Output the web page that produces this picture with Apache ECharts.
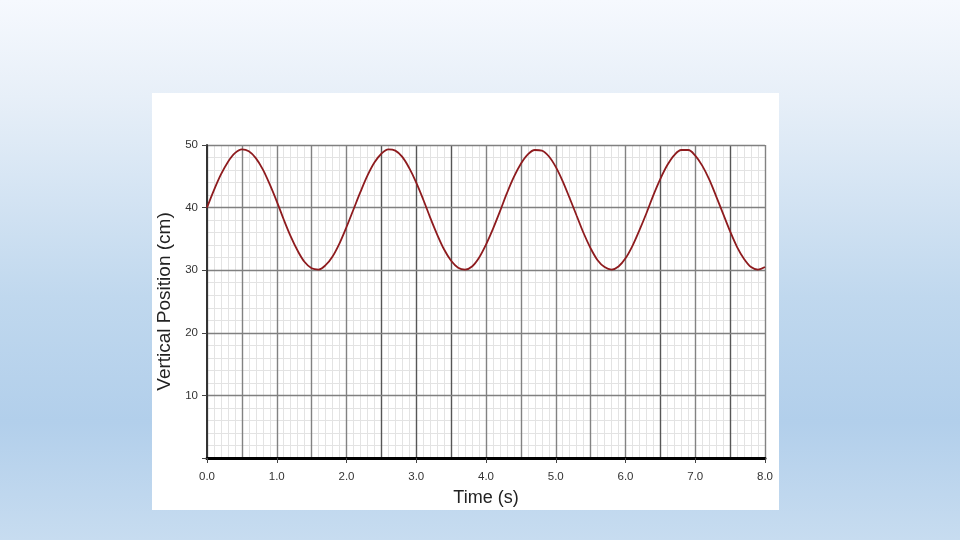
<!DOCTYPE html>
<html>
<head>
<meta charset="utf-8">
<style>html,body{margin:0;padding:0;width:960px;height:540px;overflow:hidden;}#c{width:960px;height:540px;}</style>
<script src="https://cdn.jsdelivr.net/npm/echarts@6/dist/echarts.min.js"></script>
</head>
<body>
<div id="c"></div>
<script>
// Time (s) samples and vertical position (cm)
const times = [0.0,0.1,0.2,0.3,0.4,0.5,0.6,0.7,0.8,0.9,1.0,1.1,1.2,1.3,1.4,1.5,1.6,1.7,1.8,1.9,2.0,2.1,2.2,2.3,2.4,2.5,2.6,2.7,2.8,2.9,3.0,3.1,3.2,3.3,3.4,3.5,3.6,3.7,3.8,3.9,4.0,4.1,4.2,4.3,4.4,4.5,4.6,4.7,4.8,4.9,5.0,5.1,5.2,5.3,5.4,5.5,5.6,5.7,5.8,5.9,6.0,6.1,6.2,6.3,6.4,6.5,6.6,6.7,6.8,6.9,7.0,7.1,7.2,7.3,7.4,7.5,7.6,7.7,7.8,7.9,8.0];
const positions = [40.0,42.8,45.3,47.3,48.7,49.3,49.0,47.9,46.1,43.7,41.0,38.1,35.4,33.1,31.3,30.3,30.1,30.8,32.2,34.3,36.9,39.7,42.5,45.1,47.2,48.6,49.3,49.1,48.1,46.3,44.0,41.3,38.4,35.7,33.3,31.5,30.4,30.1,30.6,32.0,34.1,36.6,39.4,42.3,44.9,47.0,48.5,49.2,49.1,48.2,46.5,44.2,41.5,38.7,35.9,33.5,31.6,30.5,30.1,30.6,31.9,33.9,36.4,39.1,42.0,44.6,46.8,48.4,49.2,49.2,48.3,46.7,44.5,41.8,39.0,36.2,33.7,31.8,30.5,30.1,30.5];
const xTitle = 'Time (s)';
const yTitle = 'Vertical Position (cm)';

const FONT = '"Liberation Sans", Arial, sans-serif';
const data = times.map((t, i) => [t, positions[i]]);

// major vertical grid line colours (0.0 .. 8.0 every 0.5)
const vCols = [];
for (let i = 0; i <= 16; i++) {
  vCols.push([5, 6, 7, 13, 15].indexOf(i) >= 0 ? '#565656' : '#828282');
}
const MINOR = '#e3e3e3';

const chart = echarts.init(document.getElementById('c'), null, {renderer: 'canvas'});
chart.setOption({
  backgroundColor: {
    type: 'linear', x: 0, y: 0, x2: 0, y2: 1,
    colorStops: [
      {offset: 0, color: '#f6f9fe'},
      {offset: 0.18, color: '#e7eff8'},
      {offset: 0.55, color: '#c0d8ee'},
      {offset: 0.78, color: '#b2cfeb'},
      {offset: 1, color: '#c7dcf0'}
    ]
  },
  animation: false,
  graphic: [{
    type: 'rect', z: -10, silent: true,
    shape: {x: 152, y: 93, width: 627, height: 417},
    style: {fill: '#ffffff'}
  }],
  grid: {left: 207, top: 145, width: 558, height: 313, containLabel: false},
  xAxis: [{
    // minor vertical grid (0.1 s)
    type: 'value', min: 0, max: 8, interval: 0.5, position: 'bottom', z: 0,
    axisLine: {show: false}, axisTick: {show: false}, axisLabel: {show: false},
    splitLine: {show: false},
    minorTick: {show: false, splitNumber: 5},
    minorSplitLine: {show: true, lineStyle: {color: MINOR, width: 1}}
  }, {
    // major vertical grid (0.5 s)
    type: 'value', min: 0, max: 8, interval: 0.5, position: 'bottom', z: 1,
    axisLine: {show: false}, axisTick: {show: false}, axisLabel: {show: false},
    splitLine: {show: true, lineStyle: {color: vCols, width: 1.4}}
  }, {
    type: 'value', min: 0, max: 8, interval: 1, position: 'bottom', offset: 0, z: 2,
    axisLine: {show: true, onZero: false, lineStyle: {color: '#000', width: 3}},
    axisTick: {show: true, length: 5, lineStyle: {color: '#444', width: 1}},
    axisLabel: {color: '#333', fontFamily: FONT, fontSize: 11.5, margin: 13,
      formatter: v => v.toFixed(1)},
    splitLine: {show: false},
    name: xTitle, nameLocation: 'middle', nameGap: 31,
    nameTextStyle: {color: '#222', fontFamily: FONT, fontSize: 18}
  }],
  yAxis: [{
    // minor horizontal grid (2 cm)
    type: 'value', min: 0, max: 50, interval: 10, position: 'left', z: 0,
    axisLine: {show: false}, axisTick: {show: false}, axisLabel: {show: false},
    splitLine: {show: false},
    minorTick: {show: false, splitNumber: 5},
    minorSplitLine: {show: true, lineStyle: {color: MINOR, width: 1}}
  }, {
    type: 'value', min: 0, max: 50, interval: 10, position: 'left', z: 2,
    axisLine: {show: true, onZero: false, lineStyle: {color: '#333', width: 2}},
    axisTick: {show: true, length: 5, lineStyle: {color: '#444', width: 1}},
    axisLabel: {color: '#333', fontFamily: FONT, fontSize: 11.5, margin: 9,
      formatter: v => v === 0 ? '' : String(v)},
    splitLine: {show: true, lineStyle: {color: '#808080', width: 1.4}},
    name: yTitle, nameLocation: 'middle', nameGap: 30,
    nameTextStyle: {color: '#222', fontFamily: FONT, fontSize: 19}
  }],
  series: [{
    type: 'line', xAxisIndex: 1, yAxisIndex: 1, data: data, smooth: 0.35, showSymbol: false,
    lineStyle: {color: '#8e1b1e', width: 1.8}, z: 5
  }]
});
</script>
</body>
</html>
